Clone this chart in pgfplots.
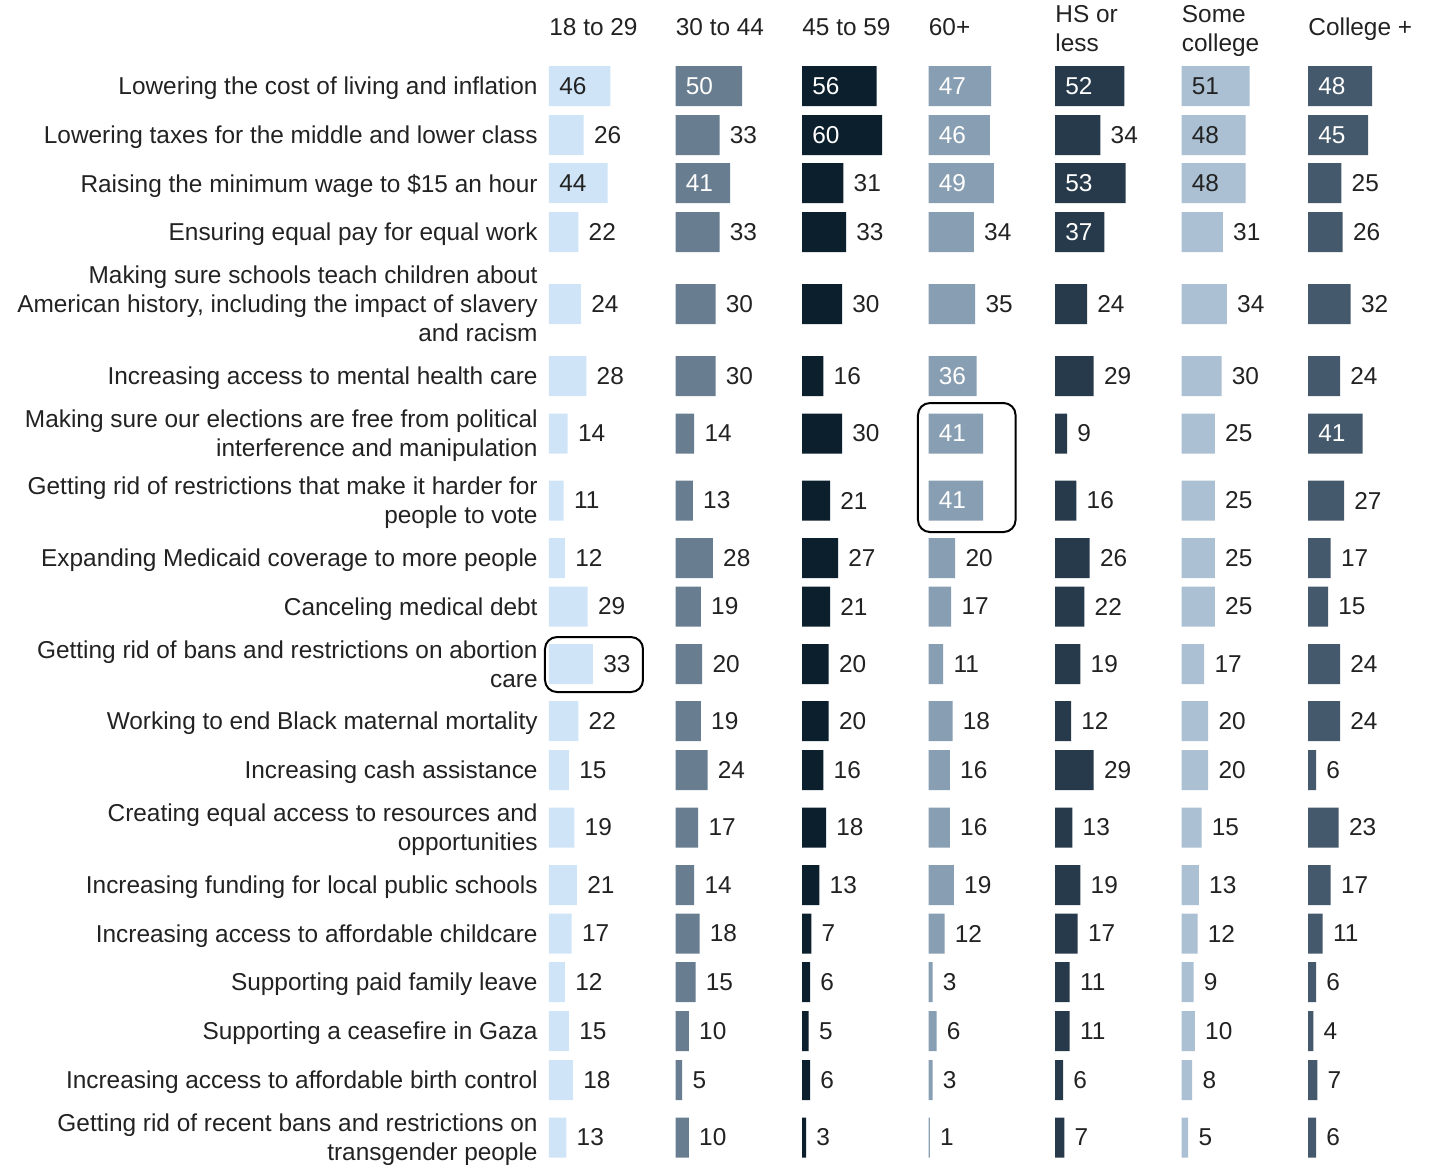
\documentclass[border=0pt]{standalone}
\usepackage{pgfplots}
\usepackage{pgfplotstable}
\pgfplotsset{compat=1.18}
\usepackage{fontspec}
\setmainfont{Liberation Sans}
\definecolor{cA}{HTML}{CFE4F7}
\definecolor{cB}{HTML}{687D90}
\definecolor{cC}{HTML}{0B1F2C}
\definecolor{cD}{HTML}{889EB2}
\definecolor{cE}{HTML}{263A4B}
\definecolor{cF}{HTML}{ABC0D3}
\definecolor{cG}{HTML}{45596C}
\definecolor{txt}{HTML}{222222}
\newcommand\lbl{\fontsize{12.2}{14.5}\selectfont}

% y = row position (px from top); a..g = the seven groups
\pgfplotstableread{
y      a  b  c  d  e  f  g
86     46 50 56 47 52 51 48
135    26 33 60 46 34 48 45
183    44 41 31 49 53 48 25
232    22 33 33 34 37 31 26
304    24 30 30 35 24 34 32
376    28 30 16 36 29 30 24
433.5  14 14 30 41 9  25 41
500.5  11 13 21 41 16 25 27
558    12 28 27 20 26 25 17
606.5  29 19 21 17 22 25 15
664    33 20 20 11 19 17 24
721    22 19 20 18 12 20 24
770    15 24 16 16 29 20 6
827.5  19 17 18 16 13 15 23
885    21 14 13 19 19 13 17
933.5  17 18 7  12 17 12 11
982    12 15 6  3  11 9  6
1031   15 10 5  6  11 10 4
1080   18 5  6  3  6  8  7
1137.5 13 10 3  1  7  5  6
}\data

\pgfplotsset{
  panel/.style={x=0.666667pt, y=0.5pt, y dir=reverse,
    xmin=0, xmax=90, ymin=0, ymax=1164, enlargelimits=false,
    clip=false, anchor=north west},
  lblplot/.style={draw=none, mark=none, point meta=explicit symbolic,
    nodes near coords={\pgfplotspointmeta},
    restrict x to domain=-1:200,
    every node near coord/.append style={anchor=west, inner sep=0pt,
      font=\lbl, xshift=5pt, text=#1}},
}
\tikzset{
  head/.style={anchor=west, align=left, inner sep=0pt, text depth=0pt, font=\lbl, text=txt},
  hbox/.style={line width=1pt, rounded corners=6pt, draw=black},
}
% #1 column, #2 bar colour, #3 colour of a value set inside its bar
\newcommand\panel[3]{%
  \addplot[xbar, bar shift=0pt, bar width=40, fill=#2, draw=none] table[x=#1,y=y]{\data};
  \addplot[lblplot=#3] table[x expr={\thisrow{#1}>35 ? 0 : -1000}, y=y, meta=#1]{\data};
  \addplot[lblplot=txt] table[x expr={\thisrow{#1}>35 ? -1000 : \thisrow{#1}}, y=y, meta=#1]{\data};
}

\begin{document}
\begin{tikzpicture}
\useasboundingbox (0,0) rectangle (717.5pt,-582pt);

\begin{axis}[panel, at={(274.5pt,0pt)},
  axis lines=left, axis line style={draw=none}, xtick=\empty,
  major tick length=0pt,
  ytick={86,135,183,232,304,376,433.5,500.5,558,606.5,664,721,770,827.5,885,933.5,982,1031,1080,1137.5},
  yticklabels={
    {Lowering the cost of living and inflation},
    {Lowering taxes for the middle and lower class},
    {Raising the minimum wage to \$15 an hour},
    {Ensuring equal pay for equal work},
    {Making sure schools teach children about\\American history, including the impact of slavery\\and racism},
    {Increasing access to mental health care},
    {Making sure our elections are free from political\\interference and manipulation},
    {Getting rid of restrictions that make it harder for\\people to vote},
    {Expanding Medicaid coverage to more people},
    {Canceling medical debt},
    {Getting rid of bans and restrictions on abortion\\care},
    {Working to end Black maternal mortality},
    {Increasing cash assistance},
    {Creating equal access to resources and\\opportunities},
    {Increasing funding for local public schools},
    {Increasing access to affordable childcare},
    {Supporting paid family leave},
    {Supporting a ceasefire in Gaza},
    {Increasing access to affordable birth control},
    {Getting rid of recent bans and restrictions on\\transgender people}},
  yticklabel style={font=\lbl, align=right, text=txt, inner sep=0pt, text depth=0pt, anchor=east, xshift=-5.5pt}]
\panel{a}{cA}{txt}
\node[head] at (axis cs:0,27) {18 to 29};
\draw[hbox] (axis cs:-3,637) rectangle (axis cs:70.5,692);
\end{axis}

\begin{axis}[panel, hide axis, at={(337.75pt,0pt)}]
\panel{b}{cB}{white}
\node[head] at (axis cs:0,27) {30 to 44};
\end{axis}

\begin{axis}[panel, hide axis, at={(401pt,0pt)}]
\panel{c}{cC}{white}
\node[head] at (axis cs:0,27) {45 to 59};
\end{axis}

\begin{axis}[panel, hide axis, at={(464.25pt,0pt)}]
\panel{d}{cD}{white}
\node[head] at (axis cs:0,27) {60+};
\draw[hbox] (axis cs:-7.9,403) rectangle (axis cs:65.3,532);
\end{axis}

\begin{axis}[panel, hide axis, at={(527.5pt,0pt)}]
\panel{e}{cE}{white}
\node[head] at (axis cs:0,28) {HS or\\less};
\end{axis}

\begin{axis}[panel, hide axis, at={(590.75pt,0pt)}]
\panel{f}{cF}{txt}
\node[head] at (axis cs:0,28) {Some\\college};
\end{axis}

\begin{axis}[panel, hide axis, at={(654pt,0pt)}]
\panel{g}{cG}{white}
\node[head] at (axis cs:0,27) {College +};
\end{axis}
\end{tikzpicture}
\end{document}
